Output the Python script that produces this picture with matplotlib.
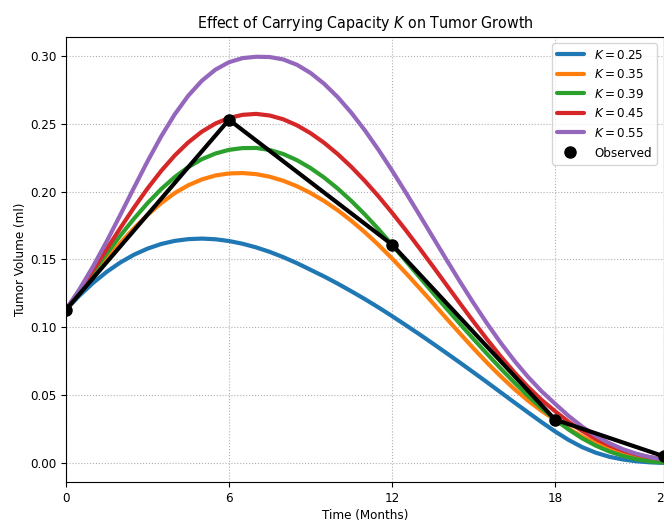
import matplotlib
matplotlib.use("Agg")
import matplotlib.pyplot as plt
import matplotlib.ticker as mticker

plt.rcParams['font.family'] = ['DejaVu Sans']
plt.rcParams['font.stretch'] = 'condensed'
plt.rcParams['font.size'] = 9.5

# time grid (months), half-month steps
months = [i * 0.5 for i in range(45)]

# model curves
k_labels = ["0.25", "0.35", "0.39", "0.45", "0.55"]
v_k025 = [0.1130, 0.1235, 0.1328, 0.1409, 0.1478, 0.1535, 0.1580, 0.1614, 0.1637, 0.1650,
          0.1654, 0.1649, 0.1636, 0.1616, 0.1589, 0.1556, 0.1517, 0.1473, 0.1424, 0.1375,
          0.1322, 0.1266, 0.1208, 0.1147, 0.1083, 0.1017, 0.0950, 0.0881, 0.0811, 0.0740,
          0.0668, 0.0595, 0.0521, 0.0447, 0.0374, 0.0302, 0.0233, 0.0170, 0.0117, 0.0076,
          0.0046, 0.0026, 0.0013, 0.0005, 0.0001]
v_k035 = [0.1130, 0.1258, 0.1384, 0.1506, 0.1622, 0.1730, 0.1828, 0.1915, 0.1989, 0.2047,
          0.2090, 0.2119, 0.2134, 0.2137, 0.2129, 0.2110, 0.2080, 0.2040, 0.1990, 0.1931,
          0.1863, 0.1786, 0.1701, 0.1608, 0.1508, 0.1402, 0.1292, 0.1180, 0.1067, 0.0955,
          0.0845, 0.0739, 0.0639, 0.0546, 0.0461, 0.0385, 0.0318, 0.0253, 0.0196, 0.0148,
          0.0109, 0.0078, 0.0055, 0.0039, 0.0029]
v_k039 = [0.1130, 0.1270, 0.1409, 0.1545, 0.1676, 0.1800, 0.1915, 0.2018, 0.2107, 0.2181,
          0.2239, 0.2281, 0.2308, 0.2321, 0.2322, 0.2307, 0.2277, 0.2232, 0.2174, 0.2104,
          0.2023, 0.1932, 0.1832, 0.1724, 0.1609, 0.1491, 0.1373, 0.1256, 0.1140, 0.1026,
          0.0914, 0.0804, 0.0697, 0.0594, 0.0496, 0.0405, 0.0322, 0.0247, 0.0182, 0.0128,
          0.0085, 0.0052, 0.0028, 0.0012, 0.0003]
v_k045 = [0.1130, 0.1272, 0.1422, 0.1577, 0.1732, 0.1882, 0.2023, 0.2152, 0.2266, 0.2363,
          0.2442, 0.2502, 0.2543, 0.2566, 0.2573, 0.2561, 0.2533, 0.2489, 0.2431, 0.2360,
          0.2277, 0.2183, 0.2079, 0.1966, 0.1845, 0.1718, 0.1586, 0.1451, 0.1314, 0.1177,
          0.1042, 0.0911, 0.0786, 0.0669, 0.0562, 0.0466, 0.0382, 0.0304, 0.0236, 0.0178,
          0.0130, 0.0092, 0.0063, 0.0042, 0.0028]
v_k055 = [0.1130, 0.1282, 0.1450, 0.1634, 0.1829, 0.2028, 0.2223, 0.2406, 0.2569, 0.2707,
          0.2817, 0.2899, 0.2954, 0.2984, 0.2994, 0.2992, 0.2974, 0.2935, 0.2875, 0.2795,
          0.2697, 0.2582, 0.2452, 0.2309, 0.2156, 0.1996, 0.1832, 0.1666, 0.1500, 0.1337,
          0.1179, 0.1028, 0.0886, 0.0755, 0.0636, 0.0530, 0.0437, 0.0347, 0.0268, 0.0201,
          0.0146, 0.0102, 0.0068, 0.0043, 0.0025]

# observed data
t_obs = [0, 6, 12, 18, 22]
v_obs = [0.113, 0.253, 0.161, 0.032, 0.005]

series = [v_k025, v_k035, v_k039, v_k045, v_k055]
colors = ['#1f77b4', '#ff7f0e', '#2ca02c', '#d62728', '#9467bd']

fig = plt.figure(figsize=(6.64, 5.24), dpi=100)
ax = fig.add_axes([0.0994, 0.0796, 0.9001, 0.8504])

for vals, lab, c in zip(series, k_labels, colors):
    ax.plot(months, vals, color=c, lw=3, label=rf'$K = {lab}$',
            solid_joinstyle='round', solid_capstyle='round')

ax.plot(t_obs, v_obs, color='black', lw=3, zorder=5)
ax.plot(t_obs, v_obs, 'o', color='black', ms=8, label='Observed', zorder=6)

ax.set_xlim(0, 22)
ax.set_ylim(-0.0142, 0.3142)
ax.set_xticks(t_obs)
ax.set_yticks([0.0, 0.05, 0.10, 0.15, 0.20, 0.25, 0.30])
ax.yaxis.set_major_formatter(mticker.FormatStrFormatter('%.2f'))
ax.grid(True, linestyle=':', color='#b0b0b0', lw=0.8)
ax.set_title(r'Effect of Carrying Capacity $K$ on Tumor Growth', fontsize=11.4)
ax.set_xlabel('Time (Months)', labelpad=3)
ax.set_ylabel('Tumor Volume (ml)', labelpad=2)
ax.legend(loc='upper right', fontsize=9.5)

fig.savefig('out.png', dpi=100)
